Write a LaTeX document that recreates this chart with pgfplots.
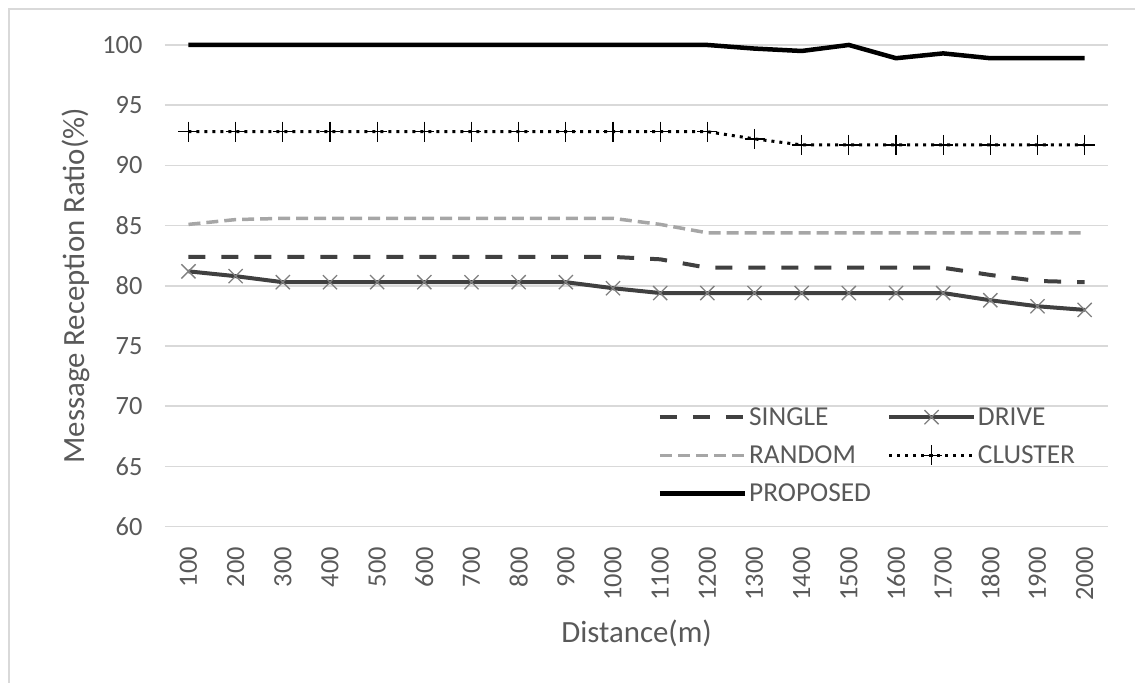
\documentclass[border=0pt]{standalone}
\usepackage{pgfplots}
\pgfplotsset{compat=1.18}
\usepackage{fontspec}
\setmainfont{Carlito}

\definecolor{gridgray}{HTML}{D9D9D9}
\definecolor{textgray}{HTML}{595959}
\definecolor{darkline}{HTML}{404040}
\definecolor{lightline}{HTML}{A6A6A6}
\definecolor{markgray}{HTML}{808080}

\begin{document}
\begin{tikzpicture}
% page frame in pixel units (1px = 1bp), y counted from the bottom
\path (0bp,0bp) rectangle (1136bp,683bp);
\draw[gridgray, line width=1.5bp] (9bp,0bp) -- (9bp,674bp) -- (1136bp,674bp);

\begin{axis}[
    at={(165bp,156bp)}, anchor=south west,
    scale only axis,
    width=944bp, height=482bp,
    xmin=-0.5, xmax=19.5,
    ymin=60, ymax=100,
    clip=false,
    axis line style={draw=none},
    xtick=data,
    xticklabels={100,200,300,400,500,600,700,800,900,1000,1100,1200,1300,1400,1500,1600,1700,1800,1900,2000},
    ytick={60,65,...,100},
    major tick length=0pt,
    ymajorgrids,
    grid style={gridgray, line width=1.5bp},
    /pgf/number format/assume math mode=true,
    tick label style={font=\fontsize{26.5}{30}\selectfont, text=textgray},
    xticklabel style={rotate=90, anchor=east, xshift=-17bp},
    yticklabel style={xshift=-19bp},
    xlabel={Distance(m)},
    ylabel={Message Reception Ratio(\%)},
    label style={font=\fontsize{31}{35}\selectfont, text=textgray},
    xlabel style={yshift=-12bp},
    ylabel style={yshift=6bp},
    legend columns=2,
    legend cell align=left,
    legend style={
        at={(0.519,0.256)}, anchor=north west,
        draw=none, fill=none,
        font=\fontsize{27.5}{30}\selectfont, text=textgray,
        row sep=15bp,
        nodes={inner sep=2bp},
        /tikz/every even column/.append style={column sep=14bp},
    },
    legend image code/.code={
        \draw[mark repeat=2, mark phase=2, #1]
            plot coordinates {(0bp,0bp) (42.5bp,0bp) (85bp,0bp)};
    },
]

\addplot[darkline, line width=4bp, dash pattern=on 17bp off 16bp] coordinates {
    (0,82.4) (1,82.4) (2,82.4) (3,82.4) (4,82.4) (5,82.4) (6,82.4) (7,82.4)
    (8,82.4) (9,82.4) (10,82.2) (11,81.5) (12,81.5) (13,81.5) (14,81.5)
    (15,81.5) (16,81.5) (17,80.9) (18,80.4) (19,80.3)
};
\addlegendentry{SINGLE}

\addplot[darkline, line width=4bp, mark=x,
    mark options={draw=markgray, line width=1.3bp, solid, mark size=10bp}] coordinates {
    (0,81.2) (1,80.8) (2,80.3) (3,80.3) (4,80.3) (5,80.3) (6,80.3) (7,80.3)
    (8,80.3) (9,79.8) (10,79.4) (11,79.4) (12,79.4) (13,79.4) (14,79.4)
    (15,79.4) (16,79.4) (17,78.8) (18,78.3) (19,78.0)
};
\addlegendentry{DRIVE}

\addplot[lightline, line width=3.5bp, dash pattern=on 12bp off 6bp] coordinates {
    (0,85.1) (1,85.5) (2,85.6) (3,85.6) (4,85.6) (5,85.6) (6,85.6) (7,85.6)
    (8,85.6) (9,85.6) (10,85.1) (11,84.4) (12,84.4) (13,84.4) (14,84.4)
    (15,84.4) (16,84.4) (17,84.4) (18,84.4) (19,84.4)
};
\addlegendentry{RANDOM}

\addplot[black, line width=3bp, dash pattern=on 3bp off 5bp, mark=+,
    mark options={line width=1.3bp, solid, mark size=10bp}] coordinates {
    (0,92.8) (1,92.8) (2,92.8) (3,92.8) (4,92.8) (5,92.8) (6,92.8) (7,92.8)
    (8,92.8) (9,92.8) (10,92.8) (11,92.8) (12,92.2) (13,91.7) (14,91.7)
    (15,91.7) (16,91.7) (17,91.7) (18,91.7) (19,91.7)
};
\addlegendentry{CLUSTER}

\addplot[black, line width=4.5bp] coordinates {
    (0,100) (1,100) (2,100) (3,100) (4,100) (5,100) (6,100) (7,100)
    (8,100) (9,100) (10,100) (11,100) (12,99.7) (13,99.5) (14,100)
    (15,98.9) (16,99.3) (17,98.9) (18,98.9) (19,98.9)
};
\addlegendentry{PROPOSED}

\end{axis}
\end{tikzpicture}
\end{document}
